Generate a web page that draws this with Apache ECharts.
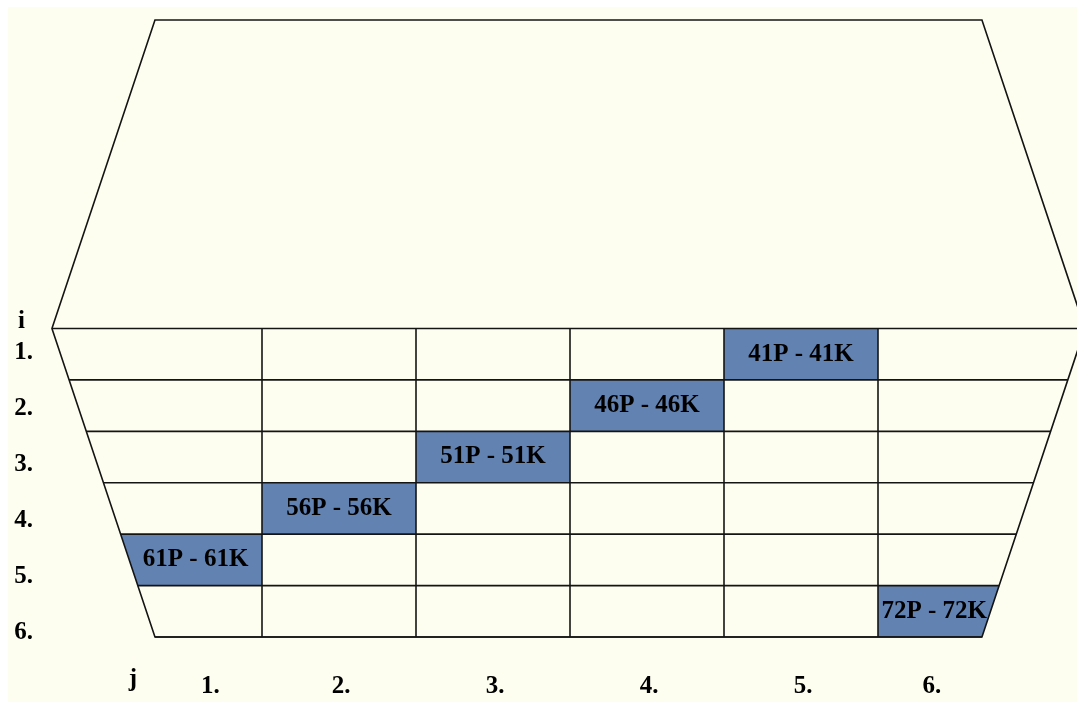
<!DOCTYPE html>
<html><head><meta charset="utf-8">
<script src="https://cdn.jsdelivr.net/npm/echarts@6/dist/echarts.min.js"></script>
<style>html,body{margin:0;padding:0;background:#fff;overflow:hidden;} #c{position:absolute;left:8px;top:7px;width:1069px;height:695px;}</style>
</head><body><div id="c"></div>
<script>
// ---- data ----
const rowLabels = ['1.', '2.', '3.', '4.', '5.', '6.'];
const colLabels = ['1.', '2.', '3.', '4.', '5.', '6.'];
const rowAxisName = 'i';
const colAxisName = 'j';
const cellRows = [1, 2, 3, 4, 5, 6];
const cellCols = [5, 4, 3, 2, 1, 6];
const cellLabels = ['41P - 41K', '46P - 46K', '51P - 51K', '56P - 56K', '61P - 61K', '72P - 72K'];

// ---- frame geometry (axis units) ----
const NR = rowLabels.length, NC = colLabels.length;
const APEX_L = -0.364, APEX_R = 6.344, SLANT = 0.669;
function leftX(y) { return APEX_L + Math.abs(y) / NR * SLANT; }
function rightX(y) { return APEX_R - Math.abs(y) / NR * SLANT; }
function colBounds(c, y) { return [c === 1 ? leftX(y) : c - 1, c === NC ? rightX(y) : c]; }

const FONT = 'bold 25px "Liberation Serif", "Times New Roman", serif';
const LINE = { stroke: '#141414', lineWidth: 1.6 };
const BLUE = '#6282b1';

const chart = echarts.init(document.getElementById('c'));
chart.setOption({
  backgroundColor: '#fefef0',
  animation: false,
  grid: [
    { left: 100, right: 45, top: 13, bottom: 65 },
    { left: 25, width: 10, top: 346, bottom: 69 }
  ],
  xAxis: [
    { gridIndex: 0, type: 'value', min: 0, max: NC, show: false },
    { gridIndex: 1, type: 'value', min: 0, max: 1, show: false }
  ],
  yAxis: [
    { gridIndex: 0, type: 'value', min: -NR, max: NR, inverse: true, show: false },
    {
      gridIndex: 1, type: 'category', data: rowLabels, inverse: true, boundaryGap: false,
      axisLine: { show: false }, axisTick: { show: false }, splitLine: { show: false },
      axisLabel: { margin: 0, color: '#000', fontFamily: '"Liberation Serif", serif', fontWeight: 'bold', fontSize: 25 },
      name: rowAxisName, nameLocation: 'start', nameGap: 19,
      nameTextStyle: { color: '#000', fontFamily: '"Liberation Serif", serif', fontWeight: 'bold', fontSize: 25, align: 'right', padding: [0, 8, 0, 0] }
    }
  ],
  series: [
    {
      type: 'custom', xAxisIndex: 0, yAxisIndex: 0, z: 1,
      data: cellRows.map((r, i) => [cellCols[i], r, cellLabels[i]]),
      renderItem: function (params, api) {
        const c = api.value(0), r = api.value(1);
        const t = colBounds(c, r - 1), b = colBounds(c, r);
        const pts = [[t[0], r - 1], [t[1], r - 1], [b[1], r], [b[0], r]].map(p => api.coord(p));
        const cx = (pts[0][0] + pts[1][0] + pts[2][0] + pts[3][0]) / 4;
        const cy = (pts[0][1] + pts[2][1]) / 2;
        return {
          type: 'group', children: [
            { type: 'polygon', shape: { points: pts }, style: { fill: BLUE } },
            { type: 'text', z2: 10, style: { text: cellLabels[params.dataIndex], x: cx, y: cy, align: 'center', verticalAlign: 'middle', font: FONT, fill: '#000' } }
          ]
        };
      }
    },
    {
      type: 'custom', xAxisIndex: 0, yAxisIndex: 0, z: 2,
      data: [[0, 0]],
      renderItem: function (params, api) {
        const children = [];
        const hex = [[leftX(-NR), -NR], [rightX(-NR), -NR], [APEX_R, 0], [rightX(NR), NR], [leftX(NR), NR], [APEX_L, 0]].map(p => api.coord(p));
        children.push({ type: 'polygon', shape: { points: hex }, style: Object.assign({ fill: 'none' }, LINE) });
        for (let y = 0; y <= NR; y++) {
          const a = api.coord([leftX(y), y]), b = api.coord([rightX(y), y]);
          children.push({ type: 'line', shape: { x1: a[0], y1: a[1], x2: b[0], y2: b[1] }, style: LINE });
        }
        for (let x = 1; x < NC; x++) {
          const a = api.coord([x, 0]), b = api.coord([x, NR]);
          children.push({ type: 'line', shape: { x1: a[0], y1: a[1], x2: b[0], y2: b[1] }, style: LINE });
        }
        return { type: 'group', children: children };
      }
    },
    {
      type: 'custom', xAxisIndex: 0, yAxisIndex: 0, z: 3,
      data: colLabels.map((t, i) => [i + 1, t]),
      renderItem: function (params, api) {
        const c = api.value(0);
        const bb = colBounds(c, NR);
        const p = api.coord([(bb[0] + bb[1]) / 2, NR]);
        return { type: 'text', style: { text: colLabels[params.dataIndex], x: p[0] + 2, y: p[1] + 50, align: 'center', verticalAlign: 'middle', font: FONT, fill: '#000' } };
      }
    },
    {
      type: 'custom', xAxisIndex: 0, yAxisIndex: 0, z: 3,
      data: [[0, NR]],
      renderItem: function (params, api) {
        const p = api.coord([leftX(NR), NR]);
        return { type: 'text', style: { text: colAxisName, x: p[0] - 22, y: p[1] + 43, align: 'center', verticalAlign: 'middle', font: FONT, fill: '#000' } };
      }
    },
    { type: 'line', xAxisIndex: 1, yAxisIndex: 1, data: [], silent: true }
  ]
});
</script></body></html>
